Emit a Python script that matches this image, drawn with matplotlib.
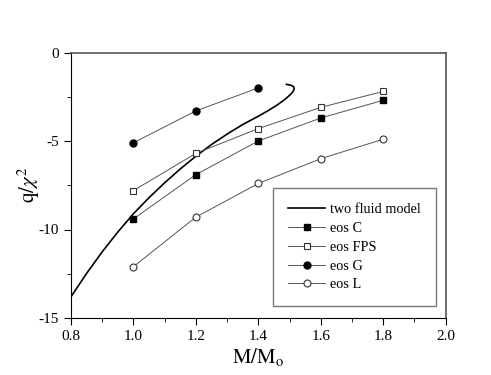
import matplotlib
matplotlib.use("Agg")
import matplotlib.pyplot as plt

plt.rcParams['font.family'] = ['Liberation Serif', 'DejaVu Serif']
plt.rcParams['mathtext.fontset'] = 'stix'
plt.rcParams['axes.unicode_minus'] = False

# two fluid model curve
tf_m = [0.80, 0.85, 0.90, 0.95, 1.00, 1.05, 1.10, 1.15, 1.20, 1.25, 1.30, 1.35,
        1.40, 1.43, 1.46, 1.48, 1.495, 1.507, 1.513, 1.515, 1.513, 1.505, 1.49]
tf_q = [-13.8, -12.48, -11.26, -10.14, -9.11, -8.2, -7.36, -6.58, -5.86, -5.2, -4.61,
        -4.07, -3.6, -3.3, -2.97, -2.72, -2.5, -2.3, -2.15, -2.02, -1.93, -1.85, -1.80]

m_eos = [1.0, 1.2, 1.4, 1.6, 1.8]
q_c = [-9.4, -6.9, -5.0, -3.7, -2.7]
q_fps = [-7.8, -5.7, -4.3, -3.1, -2.2]
m_g = [1.0, 1.2, 1.4]
q_g = [-5.1, -3.3, -2.0]
q_l = [-12.1, -9.3, -7.4, -6.0, -4.9]

fig = plt.figure(figsize=(4.91, 3.75), dpi=100)
ax = fig.add_axes([0.1446, 0.152, 0.763, 0.708])

gray = '#555555'
ax.plot(tf_m, tf_q, color='black', lw=1.2, label='two fluid model')
ax.plot(m_eos, q_c, color=gray, lw=0.7, marker='s', ms=4.5, mfc='black', mec='black',
        label='eos C')
ax.plot(m_eos, q_fps, color=gray, lw=0.7, marker='s', ms=4.5, mfc='white', mec='#333333',
        mew=0.8, label='eos FPS')
ax.plot(m_g, q_g, color=gray, lw=0.7, marker='o', ms=5, mfc='black', mec='black',
        label='eos G')
ax.plot(m_eos, q_l, color=gray, lw=0.7, marker='o', ms=5, mfc='white', mec='#333333',
        mew=0.8, label='eos L')

ax.set_xlim(0.8, 2.0)
ax.set_ylim(-15, 0)
ax.set_xticks([0.8, 1.0, 1.2, 1.4, 1.6, 1.8, 2.0])
ax.set_xticks([0.9, 1.1, 1.3, 1.5, 1.7, 1.9], minor=True)
ax.set_yticks([-15, -10, -5, 0])
ax.set_yticks([-12.5, -7.5, -2.5], minor=True)
ax.tick_params(which='both', direction='out', labelsize=11)
ax.tick_params(which='major', length=5)
ax.tick_params(which='minor', length=3)

for s in ['top', 'right']:
    ax.spines[s].set_color(gray)
    ax.spines[s].set_linewidth(1.2)

ax.set_xlabel(r'$\mathrm{M/M_o}$', fontsize=15, labelpad=2)
ax.set_ylabel(r'$\mathrm{q}/\chi^{2}$', fontsize=15, labelpad=-2)

leg = ax.legend(loc='lower right', bbox_to_anchor=(0.973, 0.044), fontsize=10.3,
                fancybox=False, frameon=True, edgecolor=gray, borderpad=1.05,
                borderaxespad=0, labelspacing=0.4, handlelength=2.6,
                handletextpad=0.3)
leg.get_frame().set_linewidth(1.0)

fig.savefig('out.png', dpi=100)
